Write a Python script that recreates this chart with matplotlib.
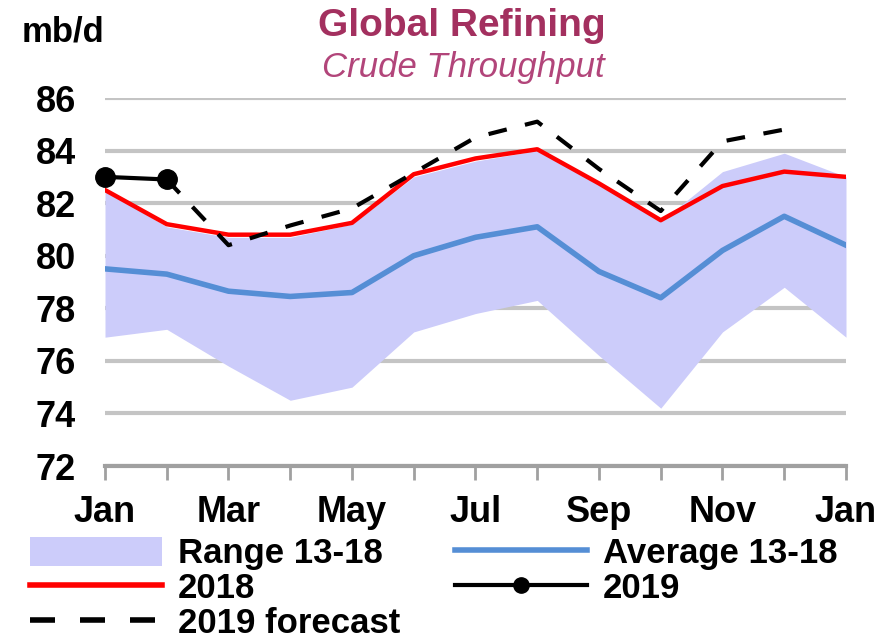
import matplotlib
matplotlib.use("Agg")
import matplotlib.pyplot as plt
from matplotlib.patches import Patch
from matplotlib.lines import Line2D
import numpy as np

plt.rcParams['font.family'] = ['Liberation Sans', 'DejaVu Sans']

months = ["Jan", "Feb", "Mar", "Apr", "May", "Jun", "Jul", "Aug", "Sep", "Oct", "Nov", "Dec", "Jan"]
tick_labels = ["Jan", "", "Mar", "", "May", "", "Jul", "", "Sep", "", "Nov", "", "Jan"]

range_low = [76.9, 77.2, 75.8, 74.5, 75.0, 77.1, 77.8, 78.3, 76.2, 74.2, 77.1, 78.8, 76.9]
range_high = [82.5, 81.1, 80.7, 80.7, 81.2, 83.0, 83.6, 84.0, 82.7, 81.3, 83.2, 83.9, 83.0]
avg_13_18 = [79.5, 79.3, 78.65, 78.45, 78.6, 80.0, 80.7, 81.1, 79.4, 78.4, 80.2, 81.5, 80.4]
y2018 = [82.5, 81.2, 80.8, 80.8, 81.25, 83.1, 83.7, 84.05, 82.75, 81.35, 82.65, 83.2, 83.0]
y2019 = [83.0, 82.9]
y2019_fc = [82.9, 80.4, 81.15, 81.8, 83.15, 84.5, 85.1, 83.3, 81.7, 84.35, 84.8]

x = np.arange(len(months))
x2019 = x[:len(y2019)]
xfc = x[1:1 + len(y2019_fc)]

fig = plt.figure(figsize=(8.95, 6.41), dpi=100)
ax = fig.add_axes([105/895, 1 - 466/641, (846 - 105)/895, (466 - 98)/641])

fig.text(462/895, 1 - 26/641, "Global Refining", ha="center", va="center",
         fontsize=28, fontweight="bold", color="#a3305f")
fig.text(463/895, 1 - 68/641, "Crude Throughput", ha="center", va="center",
         fontsize=25, style="italic", color="#b2457a")
fig.text(22/895, 1 - 32/641, "mb/d", ha="left", va="center", fontsize=25, fontweight="bold")

ax.fill_between(x, range_low, range_high, color="#ccccfa", linewidth=0, zorder=1)
ax.plot(x, avg_13_18, color="#558ed5", lw=4, zorder=3)
ax.plot(x, y2018, color="#ff0000", lw=3.2, zorder=4)
ax.plot(xfc, y2019_fc, color="black", lw=3, dashes=(4.5, 4.5), zorder=5)
ax.plot(x2019, y2019, color="black", lw=3, marker="o", ms=14, zorder=6, clip_on=False)

ax.set_xlim(0, 12)
ax.set_ylim(72, 86)
ax.set_yticks(np.arange(72, 87, 2))
ax.grid(axis="y", color="#c4c4c4", lw=3, zorder=0)
ax.set_axisbelow(True)
for s in ["top", "right", "left"]:
    ax.spines[s].set_visible(False)
ax.spines["bottom"].set_color("#a0a0a0")
ax.spines["bottom"].set_linewidth(3)
ax.set_xticks(x)
ax.set_xticklabels(tick_labels)
ax.tick_params(axis="x", direction="out", length=10, width=2, color="#a0a0a0", pad=11,
               labelsize=26)
ax.tick_params(axis="y", length=0, pad=21, labelsize=26)
for lab in ax.get_xticklabels() + ax.get_yticklabels():
    lab.set_fontweight("bold")

handles = [
    Patch(facecolor="#ccccfa", edgecolor="none"),
    Line2D([], [], color="#ff0000", lw=4),
    Line2D([], [], color="black", lw=4, dashes=(4.5, 4.5)),
    Line2D([], [], color="#558ed5", lw=4),
    Line2D([], [], color="black", lw=3, marker="o", ms=11),
]
labels = ["Range 13-18", "2018", "2019 forecast", "Average 13-18", "2019"]
fig.legend(handles, labels, loc="upper left", bbox_to_anchor=(30/895, 1 - 537/641),
           ncol=2, frameon=False, prop={"weight": "bold", "size": 25},
           handlelength=3.8, handleheight=0.9, columnspacing=1.6, labelspacing=0.04,
           handletextpad=0.45, borderpad=0, borderaxespad=0)

fig.savefig("out.png", dpi=100)
